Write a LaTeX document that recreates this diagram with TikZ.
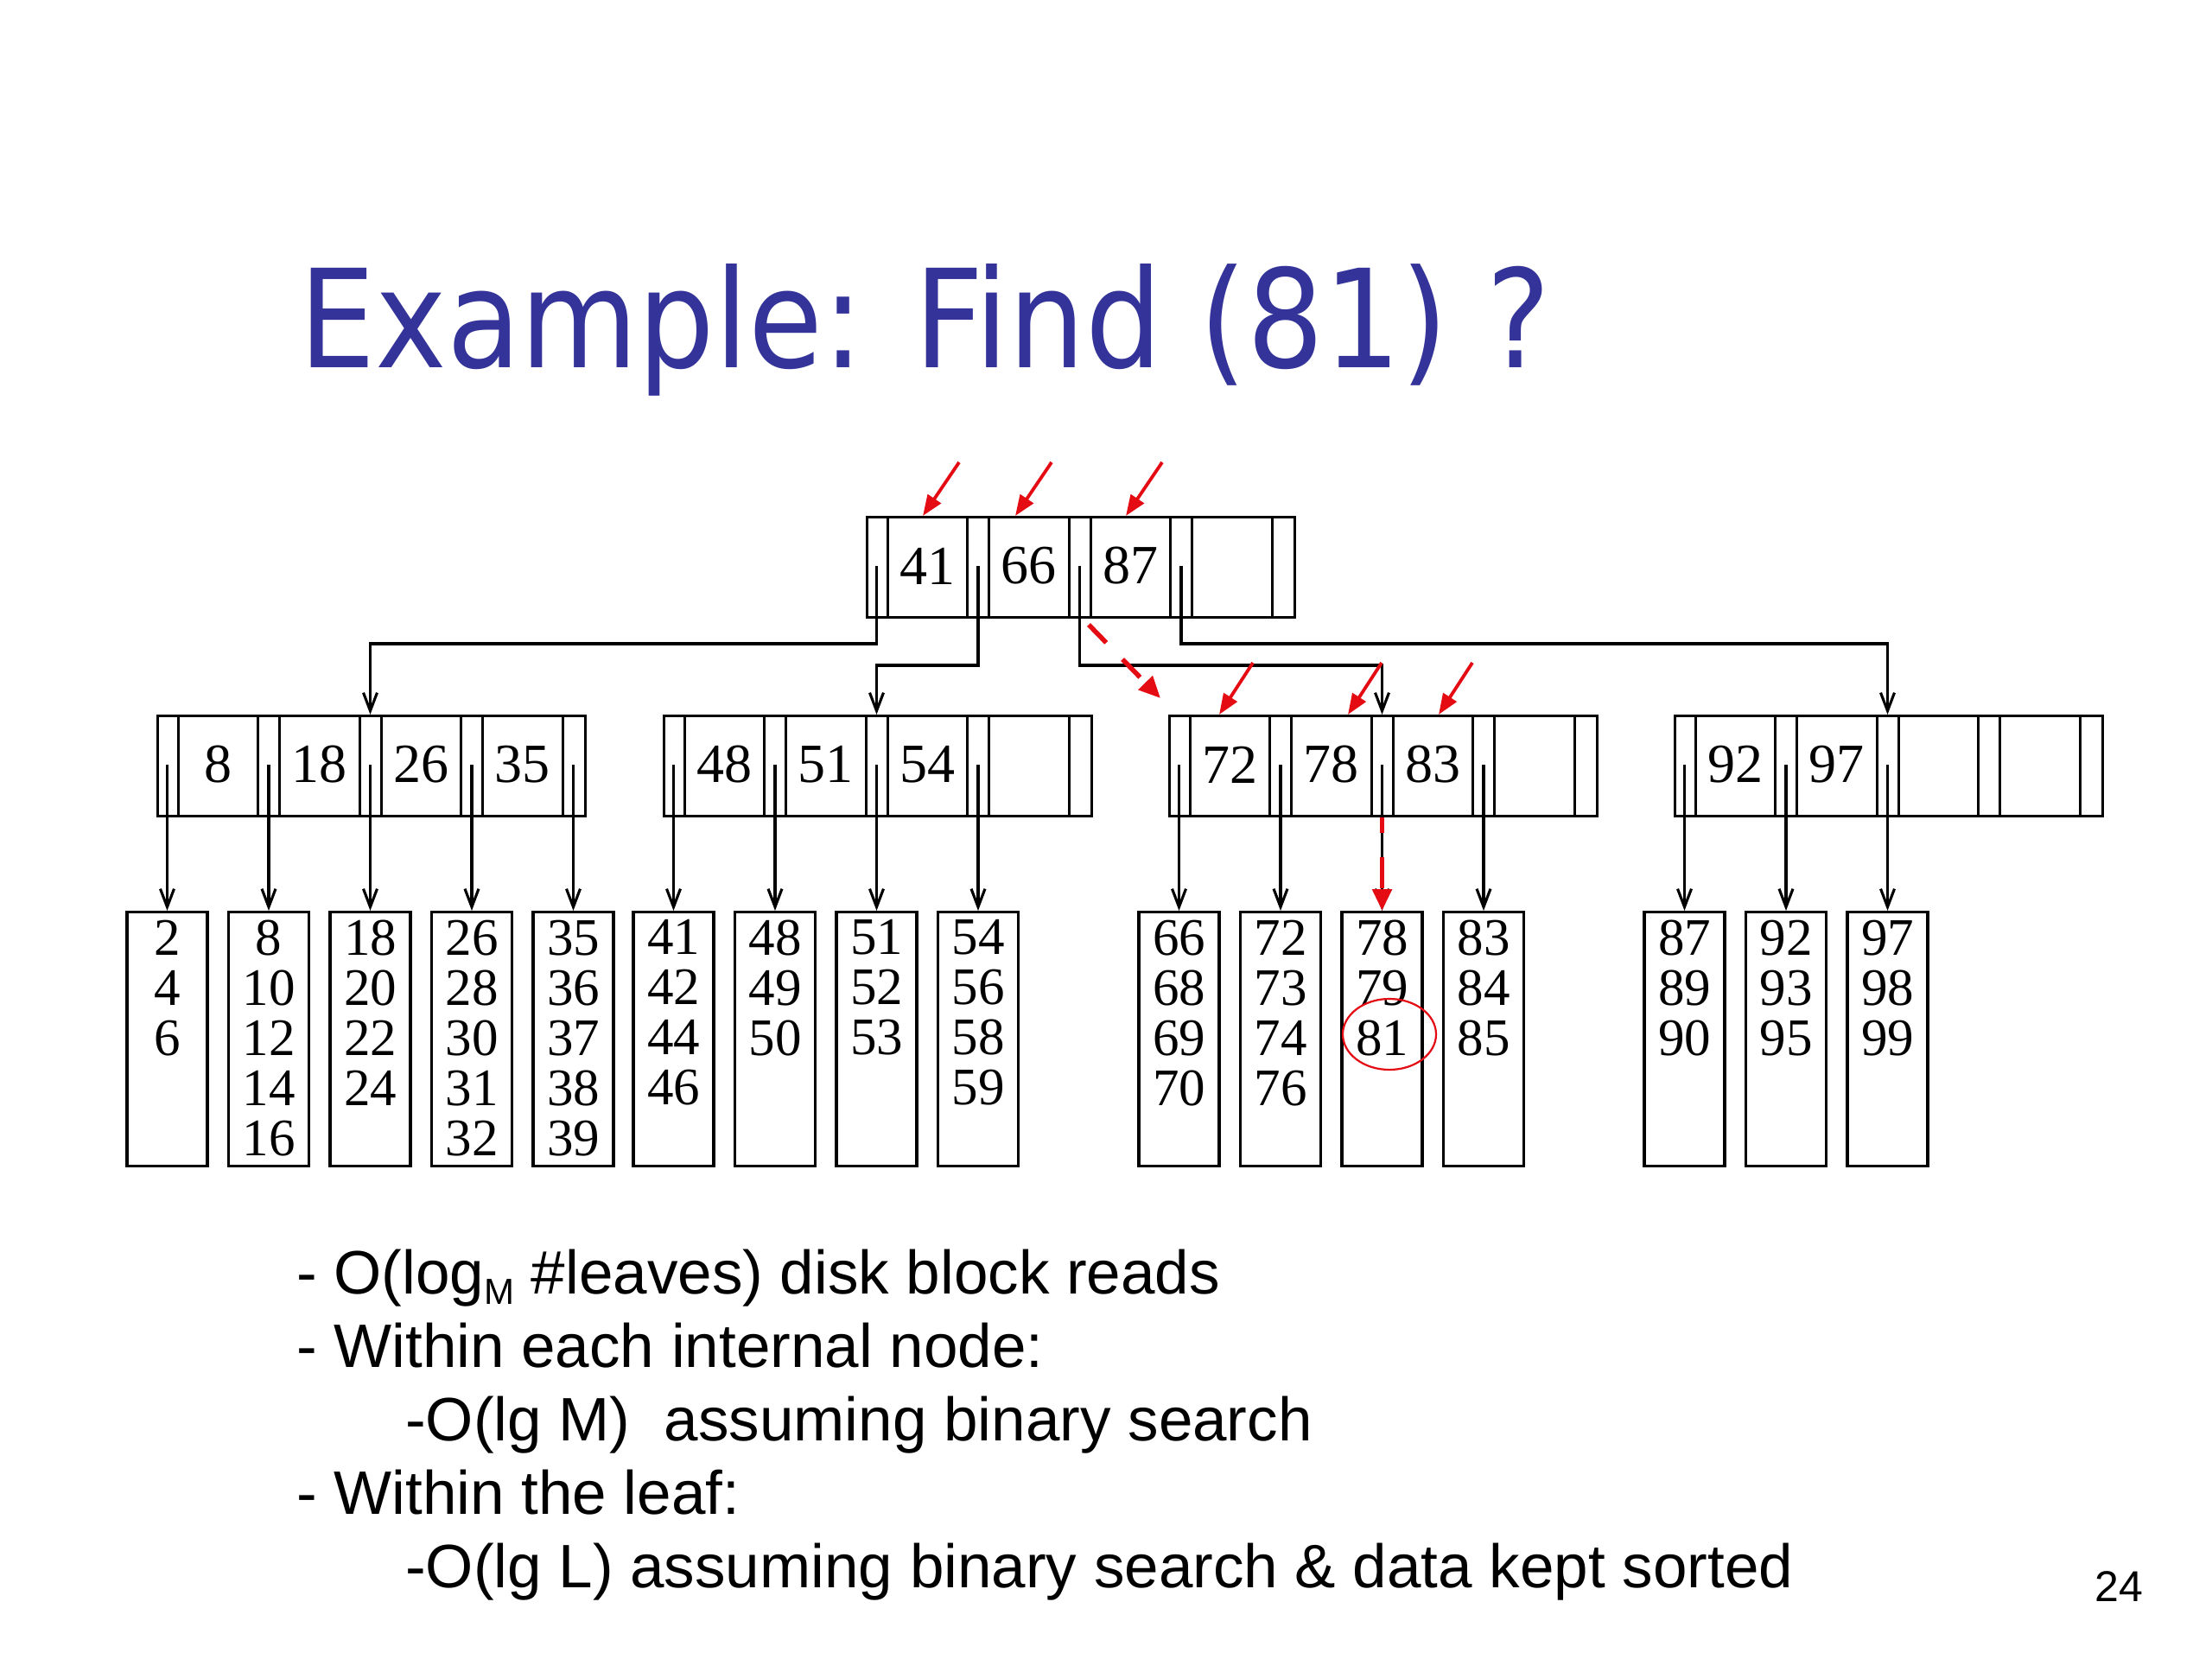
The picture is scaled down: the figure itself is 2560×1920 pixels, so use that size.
\documentclass[tikz,border=0pt]{standalone}
\usepackage{fontspec}
\usepackage{graphicx}
\setmainfont{Liberation Serif}
\newfontfamily\titlefont{DejaVu Sans}
\newfontfamily\bodyfont{Liberation Sans}
\usetikzlibrary{arrows.meta}
\definecolor{myred}{RGB}{228,12,18}
\definecolor{titleblue}{RGB}{51,51,153}

\tikzset{
  boxnode/.style={draw, line width=3.3pt, inner sep=0pt, minimum width=495pt, minimum height=116pt},
  divider/.style={line width=3pt},
  keytxt/.style={inner sep=0pt, font=\fontsize{64}{64}\selectfont},
  leafnode/.style={draw, line width=3.3pt, inner sep=0pt, minimum width=93pt, minimum height=294pt},
  leaftxt/.style={inner sep=0pt, align=center, font=\fontsize{61}{58}\selectfont},
  ptr/.style={line width=3.1pt, -{Straight Barb[length=21pt,width=16pt,line width=3.1pt]}},
  redarrow/.style={myred, line width=3.8pt, -{Triangle[length=24pt,width=18pt]}},
  reddash/.style={myred, line width=5.5pt, -{Triangle[length=25pt,width=22pt]}},
  body/.style={inner sep=0pt, anchor=base west, font=\bodyfont\fontsize{71}{71}\selectfont},
}

\newcommand\bnode[7]{%
  \begin{scope}[shift={(#2,#3)}]
    \node[boxnode, anchor=north west] (#1) at (0,0) {};
    \foreach \bx in {25,117.5,142.5,235,260,352.5,377.5,470}
      \draw[divider] (\bx,0) -- (\bx,116);
    \node[keytxt] (#1k1) at (71.25,58) {#4};
    \node[keytxt] (#1k2) at (188.75,58) {#5};
    \node[keytxt] (#1k3) at (306.25,58) {#6};
    \node[keytxt] (#1k4) at (423.75,58) {#7};
    \coordinate (#1p1) at (12.5,58);
    \coordinate (#1p2) at (130,58);
    \coordinate (#1p3) at (247.5,58);
    \coordinate (#1p4) at (365,58);
    \coordinate (#1p5) at (482.5,58);
  \end{scope}}

\newcommand\leafbox[3]{%
  \node[leafnode, anchor=north] (#1) at (#2 |- leaftop) {};
  \node[leaftxt, anchor=north, yshift=-10.5pt] (#1t) at (#1.north) {#3};}

\begin{document}
\begin{tikzpicture}[x=1pt, y=-1pt]
  \fill[white] (0,0) rectangle (2560,1920);
  \useasboundingbox (0,0) rectangle (2560,1920);

  % title
  \node[anchor=base west, inner sep=0pt, text=titleblue,
        font=\titlefont\fontsize{158}{158}\selectfont] (title) at (346,425)
        {\scalebox{0.884}[1]{Example: Find (81) ?}};

  % internal nodes
  \bnode{r}{1002}{597}{41}{66}{87}{}
  \bnode{na}{181}{827}{8}{18}{26}{35}
  \bnode{nb}{767}{827}{48}{51}{54}{}
  \bnode{nc}{1352}{827}{72}{78}{83}{}
  \bnode{nd}{1937}{827}{92}{97}{}{}

  % leaves
  \coordinate (leaftop) at (0,1054);
  \leafbox{l1}{nap1}{2\\4\\6}
  \leafbox{l2}{nap2}{8\\10\\12\\14\\16}
  \leafbox{l3}{nap3}{18\\20\\22\\24}
  \leafbox{l4}{nap4}{26\\28\\30\\31\\32}
  \leafbox{l5}{nap5}{35\\36\\37\\38\\39}
  \leafbox{l6}{nbp1}{41\\42\\44\\46}
  \leafbox{l7}{nbp2}{48\\49\\50}
  \leafbox{l8}{nbp3}{51\\52\\53}
  \leafbox{l9}{nbp4}{54\\56\\58\\59}
  \leafbox{l10}{ncp1}{66\\68\\69\\70}
  \leafbox{l11}{ncp2}{72\\73\\74\\76}
  \leafbox{l12}{ncp3}{78\\79\\81}
  \leafbox{l13}{ncp4}{83\\84\\85}
  \leafbox{l14}{ndp1}{87\\89\\90}
  \leafbox{l15}{ndp2}{92\\93\\95}
  \leafbox{l16}{ndp3}{97\\98\\99}

  % root connectors
  \coordinate (j1) at (428.5,745);
  \coordinate (j2) at (1014.5,770);
  \coordinate (j3) at (1599.5,770);
  \coordinate (j4) at (2184.5,745);
  \draw[ptr] (rp1) |- (j1) -- (na.north -| j1);
  \draw[ptr] (rp2) |- (j2) -- (nb.north -| j2);
  \draw[ptr] (rp3) |- (j3) -- (nc.north -| j3);
  \draw[ptr] (rp4) |- (j4) -- (nd.north -| j4);

  % level-2 connectors
  \draw[ptr] (nap1) -- (l1.north);
  \draw[ptr] (nap2) -- (l2.north);
  \draw[ptr] (nap3) -- (l3.north);
  \draw[ptr] (nap4) -- (l4.north);
  \draw[ptr] (nap5) -- (l5.north);
  \draw[ptr] (nbp1) -- (l6.north);
  \draw[ptr] (nbp2) -- (l7.north);
  \draw[ptr] (nbp3) -- (l8.north);
  \draw[ptr] (nbp4) -- (l9.north);
  \draw[ptr] (ncp1) -- (l10.north);
  \draw[ptr] (ncp2) -- (l11.north);
  \draw[ptr] (ncp3) -- (l12.north);
  \draw[ptr] (ncp4) -- (l13.north);
  \draw[ptr] (ndp1) -- (l14.north);
  \draw[ptr] (ndp2) -- (l15.north);
  \draw[ptr] (ndp3) -- (l16.north);

  % red search marks
  \coordinate (ra1) at (1068,597);
  \coordinate (ra2) at (1175,597);
  \coordinate (ra3) at (1303,597);
  \draw[redarrow] (1110,535) -- (ra1);
  \draw[redarrow] (1217,535) -- (ra2);
  \draw[redarrow] (1345,535) -- (ra3);
  \coordinate (rb1) at (1411,827);
  \coordinate (rb2) at (1560,827);
  \coordinate (rb3) at (1665,827);
  \draw[redarrow] (1450,767) -- (rb1);
  \draw[redarrow] (1599,767) -- (rb2);
  \draw[redarrow] (1704,767) -- (rb3);
  \coordinate (ds) at (1260,723);
  \coordinate (de) at (1343,808);
  \draw[reddash, dash pattern=on 29pt off 27pt] (ds) -- (de);
  \draw[reddash, dash pattern=on 18pt off 28pt on 36pt off 4pt] (nc.south -| ncp3) -- (l12.north);
  \draw[myred, line width=2.2pt] (1608,1197) ellipse [x radius=54pt, y radius=41pt];

  % bottom text
  \node[body] (t1) at (343,1497) {- O(log\raisebox{-12pt}{\fontsize{42}{42}\selectfont M} \#leaves) disk block reads};
  \node[body] (t2) at (343,1582) {- Within each internal node:};
  \node[body] (t3) at (469,1667) {-O(lg M)\ \ assuming binary search};
  \node[body] (t4) at (343,1752) {- Within the leaf:};
  \node[body] (t5) at (469,1837) {-O(lg L) assuming binary search \& data kept sorted};
  \node[anchor=base west, inner sep=0pt, font=\bodyfont\fontsize{50}{50}\selectfont] (pg) at (2424,1853) {24};
\end{tikzpicture}
\end{document}
